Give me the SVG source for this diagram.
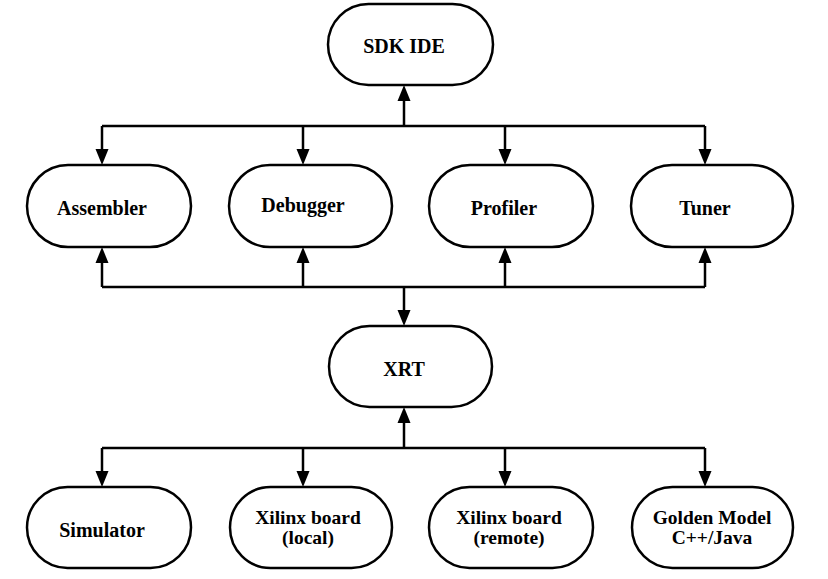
<svg xmlns="http://www.w3.org/2000/svg" width="828" height="579" viewBox="0 0 828 579">
<style>
.node rect{fill:#fff;stroke:#000;stroke-width:2.5}
.node text{font-family:"Liberation Serif","Times New Roman",serif;font-weight:bold;font-size:20px;fill:#000;text-anchor:middle}
.node text.two{font-size:19.5px}
.conn line{stroke:#000;stroke-width:2.5;fill:none}
.conn polygon{fill:#000}
</style>
<rect width="828" height="579" fill="#fff"/>
<g id="connectors" class="conn">
<line x1="102" y1="126" x2="705" y2="126"/>
<line x1="404" y1="126" x2="404" y2="100"/>
<polygon points="404,85 397.5,101 410.5,101"/>
<line x1="102" y1="126" x2="102" y2="152"/>
<line x1="303" y1="126" x2="303" y2="152"/>
<line x1="505" y1="126" x2="505" y2="152"/>
<line x1="705" y1="126" x2="705" y2="152"/>
<polygon points="102,165 95.5,149 108.5,149"/>
<polygon points="303,165 296.5,149 309.5,149"/>
<polygon points="505,165 498.5,149 511.5,149"/>
<polygon points="705,165 698.5,149 711.5,149"/>
<line x1="102" y1="287" x2="705" y2="287"/>
<line x1="102" y1="287" x2="102" y2="262"/>
<line x1="303" y1="287" x2="303" y2="262"/>
<line x1="505" y1="287" x2="505" y2="262"/>
<line x1="705" y1="287" x2="705" y2="262"/>
<polygon points="102,247 95.5,263 108.5,263"/>
<polygon points="303,247 296.5,263 309.5,263"/>
<polygon points="505,247 498.5,263 511.5,263"/>
<polygon points="705,247 698.5,263 711.5,263"/>
<line x1="404" y1="287" x2="404" y2="312"/>
<polygon points="404,326 397.5,310 410.5,310"/>
<line x1="404" y1="448" x2="404" y2="422"/>
<polygon points="404,407 397.5,423 410.5,423"/>
<line x1="102" y1="448" x2="705" y2="448"/>
<line x1="102" y1="448" x2="102" y2="474"/>
<line x1="303" y1="448" x2="303" y2="474"/>
<line x1="505" y1="448" x2="505" y2="474"/>
<line x1="705" y1="448" x2="705" y2="474"/>
<polygon points="102,487 95.5,471 108.5,471"/>
<polygon points="303,487 296.5,471 309.5,471"/>
<polygon points="505,487 498.5,471 511.5,471"/>
<polygon points="705,487 698.5,471 711.5,471"/>
</g>
<g id="sdk-ide" class="node"><rect x="328" y="4" width="165" height="81" rx="40.5"/><text x="404" y="53">SDK IDE</text></g>
<g id="assembler" class="node"><rect x="27" y="165" width="164" height="82" rx="41"/><text x="102" y="215">Assembler</text></g>
<g id="debugger" class="node"><rect x="229" y="165" width="163" height="82" rx="41"/><text x="303" y="212">Debugger</text></g>
<g id="profiler" class="node"><rect x="429" y="165" width="164" height="82" rx="41"/><text x="504" y="215">Profiler</text></g>
<g id="tuner" class="node"><rect x="631" y="165" width="162" height="82" rx="41"/><text x="705" y="215">Tuner</text></g>
<g id="xrt" class="node"><rect x="329" y="326" width="163" height="81" rx="40.5"/><text x="404" y="376">XRT</text></g>
<g id="simulator" class="node"><rect x="27" y="487" width="164" height="81" rx="40.5"/><text x="102" y="537">Simulator</text></g>
<g id="xilinx-local" class="node"><rect x="230" y="487" width="162" height="81" rx="40.5"/><text class="two" x="308" y="524">Xilinx board</text><text class="two" x="308" y="544">(local)</text></g>
<g id="xilinx-remote" class="node"><rect x="429" y="487" width="164" height="81" rx="40.5"/><text class="two" x="509" y="524">Xilinx board</text><text class="two" x="509" y="544">(remote)</text></g>
<g id="golden-model" class="node"><rect x="632" y="487" width="161" height="81" rx="40.5"/><text class="two" x="712" y="524">Golden Model</text><text class="two" x="712" y="544">C++/Java</text></g>
</svg>
